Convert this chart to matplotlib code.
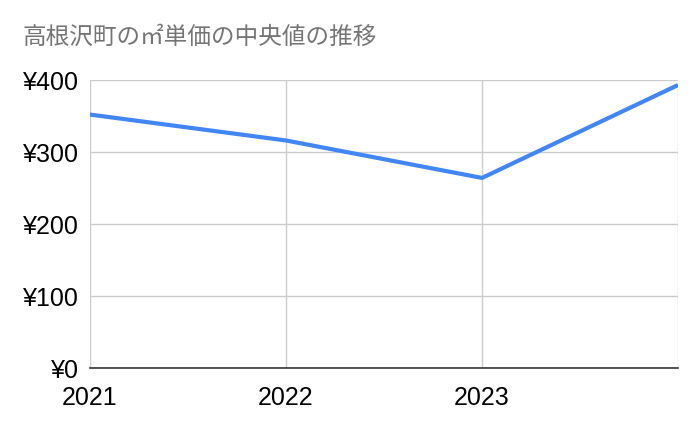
import matplotlib.pyplot as plt

plt.rcParams["font.family"] = ["Liberation Sans", "Noto Sans CJK JP", "DejaVu Sans"]

# data
years = [2021, 2022, 2023, 2024]
median_price = [352, 316, 264, 393]
x_labels = ["2021", "2022", "2023", ""]
y_ticks = [0, 100, 200, 300, 400]
title = "高根沢町の㎡単価の中央値の推移"

fig = plt.figure(figsize=(7, 4.33), dpi=100)
ax = fig.add_axes([90 / 700, 1 - 368 / 433, 588 / 700, 288 / 433])

ax.plot(years, median_price, color="#4285f4", lw=3, solid_capstyle="butt", zorder=3)

ax.set_xlim(years[0], years[-1])
ax.set_ylim(0, 400)
ax.set_xticks(years)
ax.set_xticklabels(x_labels)
ax.set_yticks(y_ticks)
ax.set_yticklabels([f"¥{v}" for v in y_ticks])
ax.tick_params(length=0, labelsize=18, colors="#000000")
ax.tick_params(axis="x", pad=13)
ax.tick_params(axis="y", pad=8)

ax.grid(True, color="#cccccc", lw=1)
ax.set_axisbelow(True)
for side in ["top", "left", "right"]:
    ax.spines[side].set_visible(False)
ax.spines["bottom"].set_color("#333333")
ax.spines["bottom"].set_linewidth(1.2)
ax.spines["bottom"].set_zorder(4)

fig.text(22 / 700, 1 - 37 / 433, title, family=["Noto Sans CJK JP"], fontsize=17,
         color="#757575", va="center")

fig.savefig("out.png", dpi=100)
